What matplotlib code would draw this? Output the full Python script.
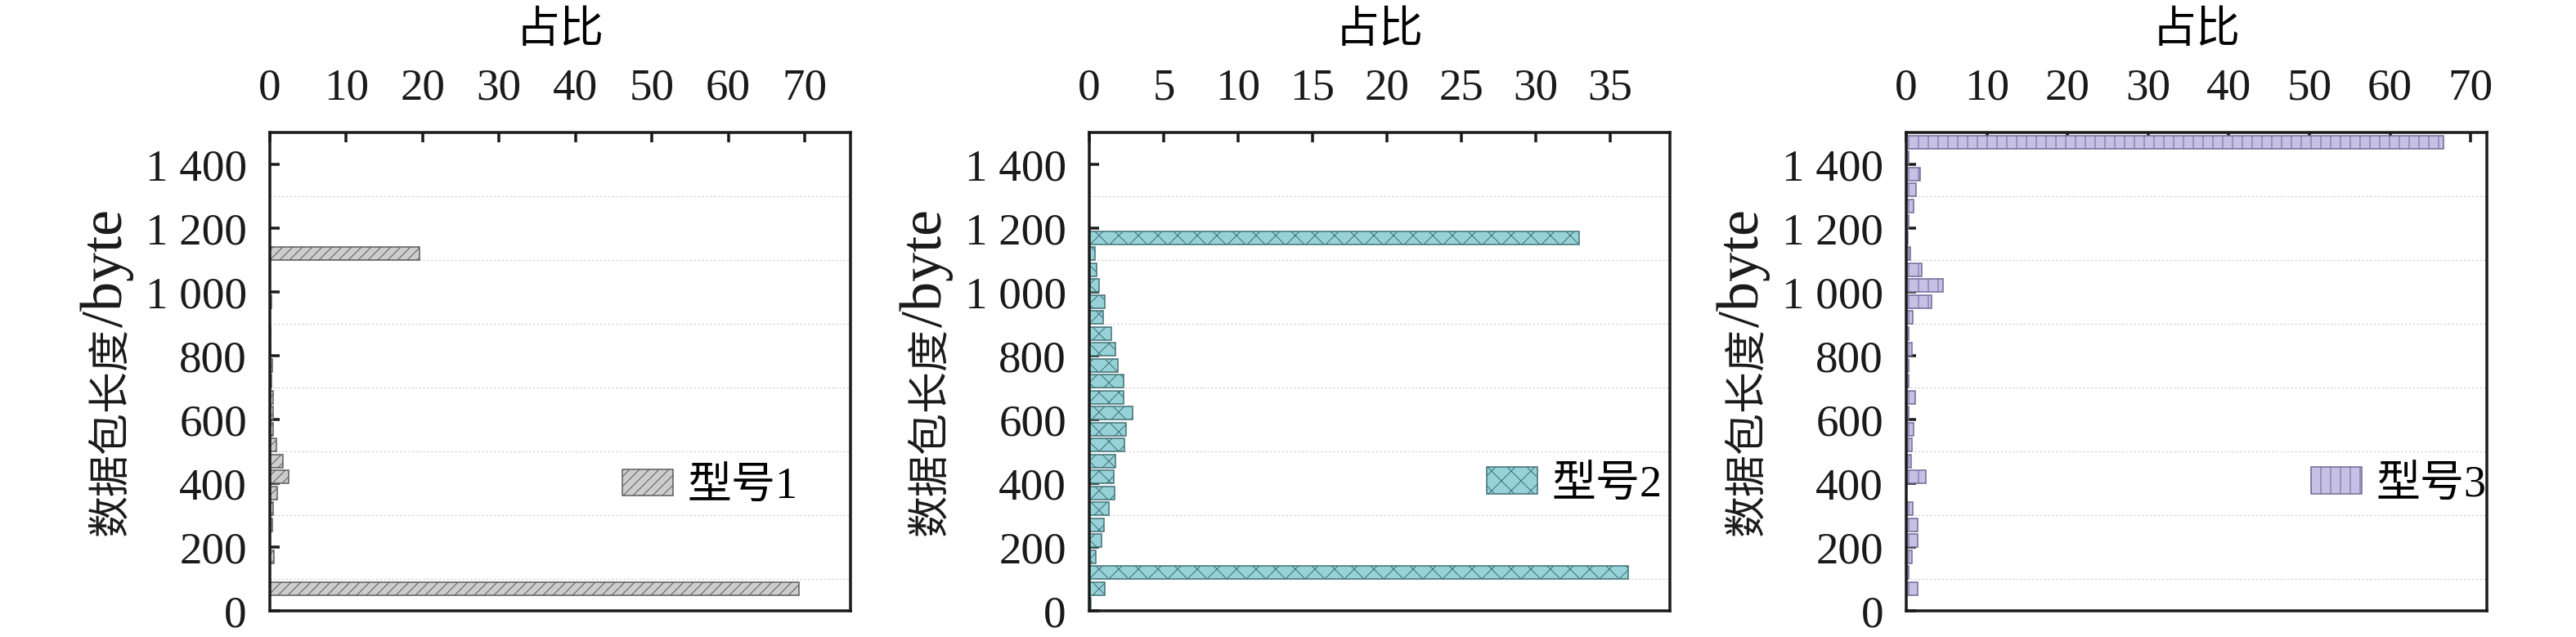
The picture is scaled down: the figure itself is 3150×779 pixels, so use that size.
import numpy as np
import matplotlib
matplotlib.use('Agg')
import matplotlib.pyplot as plt
from matplotlib.ticker import FixedLocator

plt.rcParams['font.family'] = ['Liberation Serif', 'Noto Sans CJK SC']
plt.rcParams['hatch.linewidth'] = 1.0

# packet length bins, 50 byte wide (bin start)
bins = np.arange(0, 1500, 50)

# share (%) per bin
type1 = [0, 69.3, 0, 0.54, 0.05, 0.32, 0.43, 0.96, 2.5, 1.75,
         0.86, 0.43, 0.43, 0.43, 0.21, 0.32, 0.14, 0.14, 0.05, 0.18,
         0.05, 0.05, 19.6, 0, 0, 0, 0, 0, 0, 0]
type2 = [0.1, 1.05, 36.2, 0.43, 0.8, 0.98, 1.3, 1.7, 1.63, 1.78,
         2.37, 2.48, 2.9, 2.3, 2.3, 1.9, 1.78, 1.5, 0.96, 1.04,
         0.65, 0.52, 0.39, 32.9, 0, 0, 0, 0, 0, 0]
type3 = [0, 1.46, 0.27, 0.69, 1.46, 1.39, 0.86, 0.05, 2.47, 0.62,
         0.72, 0.96, 0.3, 1.13, 0.3, 0.3, 0.7, 0.3, 0.8, 3.15,
         4.54, 1.97, 0.55, 0.17, 0.27, 0.93, 1.24, 1.73, 0.27, 66.6]

series = [type1, type2, type3]
names = ['型号1', '型号2', '型号3']
xlims = [76, 39, 72]
xticks = [np.arange(0, 71, 10), np.arange(0, 36, 5), np.arange(0, 71, 10)]
yticks = [0, 200, 400, 600, 800, 1000, 1200, 1400]
ytick_labels = ['0', '200', '400', '600', '800', '1 000', '1 200', '1 400']

faces = ['#cdcdcd', '#96d2d8', '#c6c0e4']
edges = ['#5a5a5a', '#3f6f74', '#6e6896']
hatches = ['//', 'x', '|']
legend_pos = [(0.607, 0.258), (0.684, 0.263), (0.697, 0.263)]

W, H = 3150, 779
fig = plt.figure(figsize=(W / 72, H / 72), dpi=72)
lefts = [330, 1332, 2331]
axw, axh = 710, 585

for i in range(3):
    ax = fig.add_axes([lefts[i] / W, 32 / H, axw / W, axh / H])
    ax.set_axisbelow(True)
    ax.barh(bins, series[i], height=40, align='edge', color=faces[i],
            edgecolor=edges[i], hatch=hatches[i], linewidth=1.5,
            label=names[i])
    ax.set_xlim(0, xlims[i])
    ax.set_ylim(0, 1500)
    ax.set_xticks(xticks[i])
    ax.set_yticks(yticks)
    ax.set_yticklabels(ytick_labels)
    ax.yaxis.set_minor_locator(FixedLocator(range(100, 1500, 200)))
    ax.grid(which='minor', axis='y', linestyle=(0, (2, 2)),
            color='#d0d0d0', linewidth=1.2)
    ax.xaxis.tick_top()
    ax.xaxis.set_label_position('top')
    ax.tick_params(which='major', direction='in', length=12, width=3.5,
                   labelsize=55, colors='#1a1a1a')
    ax.tick_params(axis='x', pad=28)
    ax.tick_params(axis='y', pad=28)
    ax.tick_params(which='minor', length=0)
    for s in ax.spines.values():
        s.set_linewidth(3.5)
        s.set_color('#1a1a1a')
    ax.set_xlabel('占比', fontsize=54, labelpad=32)

    # y label: chinese part and the larger latin unit part
    ylx = -181 / axw
    yly = (747 - 400) / axh
    ax.text(ylx, yly, '数据包长度', transform=ax.transAxes, rotation=90,
            rotation_mode='anchor', ha='right', va='baseline', fontsize=51,
            color='#1a1a1a')
    ax.text(ylx, yly, '/byte', transform=ax.transAxes, rotation=90,
            rotation_mode='anchor', ha='left', va='baseline', fontsize=72,
            color='#1a1a1a')

    ax.legend(loc='center left', bbox_to_anchor=legend_pos[i], frameon=False,
              fontsize=54, handlelength=1.15, handleheight=0.55,
              handletextpad=0.32, borderpad=0, borderaxespad=0)

fig.savefig('out.png', dpi=72)
